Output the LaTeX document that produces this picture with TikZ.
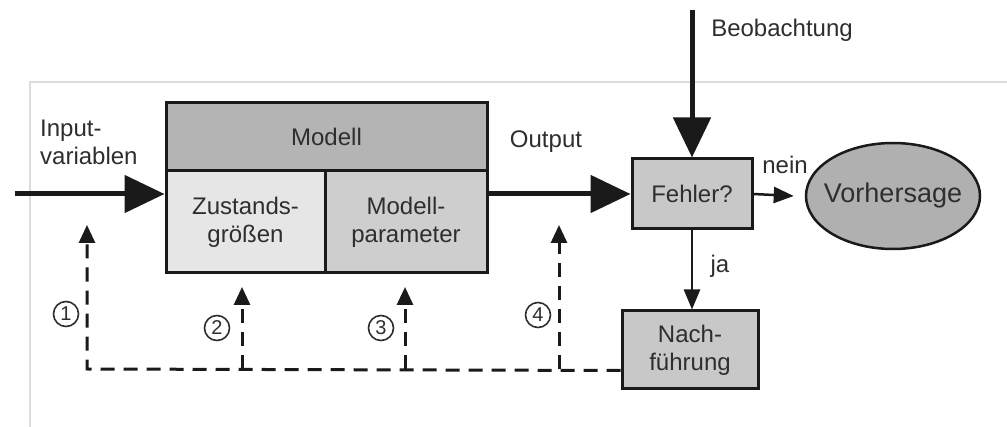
\documentclass[tikz,border=0pt]{standalone}
\usepackage{fontspec}
\setmainfont{Liberation Sans}
\usetikzlibrary{arrows.meta,shapes.geometric,calc}
\definecolor{txt}{HTML}{2E2E2E}
\definecolor{lc}{HTML}{1A1A1A}
\definecolor{framecol}{HTML}{DCDCDC}
\definecolor{hdr}{HTML}{B4B4B4}
\definecolor{zust}{HTML}{E6E6E6}
\definecolor{par}{HTML}{CECECE}
\definecolor{boxg}{HTML}{C8C8C8}
\definecolor{ell}{HTML}{B0B0B0}
\begin{document}
\begin{tikzpicture}[x=1pt,y=-1pt,
  lbl/.style={text=txt, font=\fontsize{24}{28}\selectfont, inner sep=0, align=left},
  num/.style={circle, draw=txt, line width=1.6pt, text=txt, font=\fontsize{20}{22}\selectfont, inner sep=0, minimum size=25pt},
  box/.style={draw=lc, line width=3pt, inner sep=0, text=txt, font=\fontsize{24}{28}\selectfont, align=center},
  bigarrow/.style={draw=lc, line width=5pt, -{Triangle[length=40pt,width=37pt]}},
  thinarrow/.style={draw=lc, line width=2.5pt, -{Triangle[length=20pt,width=16pt]}},
  dasharrow/.style={draw=lc, line width=3pt, dash pattern=on 14pt off 9pt, -{Triangle[length=18pt,width=16pt]}}
]
\useasboundingbox (0,0) rectangle (1007,427);
\fill[white] (0,0) rectangle (1007,427);
% frame
\draw[framecol, line width=1.5pt] (1007,82) -- (30,82) -- (30,427);

% model block
\node[box, fill=hdr, minimum width=321pt, minimum height=68pt] (modell) at (326.5,137) {Modell};
\node[box, fill=zust, minimum width=159pt, minimum height=102pt] (zust) at (245.5,222) {Zustands-\\größen};
\node[box, fill=par, minimum width=162pt, minimum height=102pt] (param) at (406,222) {Modell-\\parameter};

% right side nodes
\node[box, fill=boxg, minimum width=120pt, minimum height=70pt] (fehler) at (692,194) {Fehler?};
\node[box, fill=boxg, minimum width=136pt, minimum height=78pt] (nach) at (690,350) {Nach-\\führung};
\node[ellipse, draw=lc, line width=2.5pt, fill=ell, inner sep=0, minimum width=174pt, minimum height=106pt] (vorh) at (893,196) {};
\node[text=txt, inner sep=0, font=\fontsize{27}{30}\selectfont] (vorhtxt) at (vorh.center) {Vorhersage};

% labels
\node[lbl, anchor=north west] (inlbl) at (40,120) {Input-\\variablen};
\node[lbl] (outlbl) at (546,142) {Output};
\node[lbl] (beolbl) at (782,30) {Beobachtung};
\node[lbl] (neinlbl) at (785,165) {nein};
\node[lbl] (jalbl) at (720,266) {ja};

% main arrows
\coordinate (inS) at (15,194);
\draw[bigarrow] (inS) -- (inS -| zust.west);
\draw[bigarrow] (fehler.west -| param.east) -- (fehler.west);
\coordinate (beo) at (692,10);
\draw[bigarrow] (beo) -- (beo |- fehler.north);
\draw[thinarrow] (fehler.east) -- ($(vorh.west)+(-11,0)$);
\draw[thinarrow] (fehler.south) -- (fehler.south |- nach.north);

% feedback dashed
\coordinate (fb) at ([yshift=20pt]nach.south west);
\coordinate (j1) at (87,369);
\coordinate (t1) at (87,225);
\coordinate (j2) at (242,369);
\coordinate (t2) at (242,287);
\coordinate (j3) at (405,369);
\coordinate (t3) at (405,287);
\coordinate (j4) at (559,369);
\coordinate (t4) at (559,225);
\draw[dasharrow] (fb) -- (j1) -- (t1);
\draw[dasharrow] (j2) -- (t2);
\draw[dasharrow] (j3) -- (t3);
\draw[dasharrow] (j4) -- (t4);

\node[num] (n1) at (66,314) {1};
\node[num] (n2) at (217,328) {2};
\node[num] (n3) at (381,328) {3};
\node[num] (n4) at (538,315) {4};
\end{tikzpicture}
\end{document}
